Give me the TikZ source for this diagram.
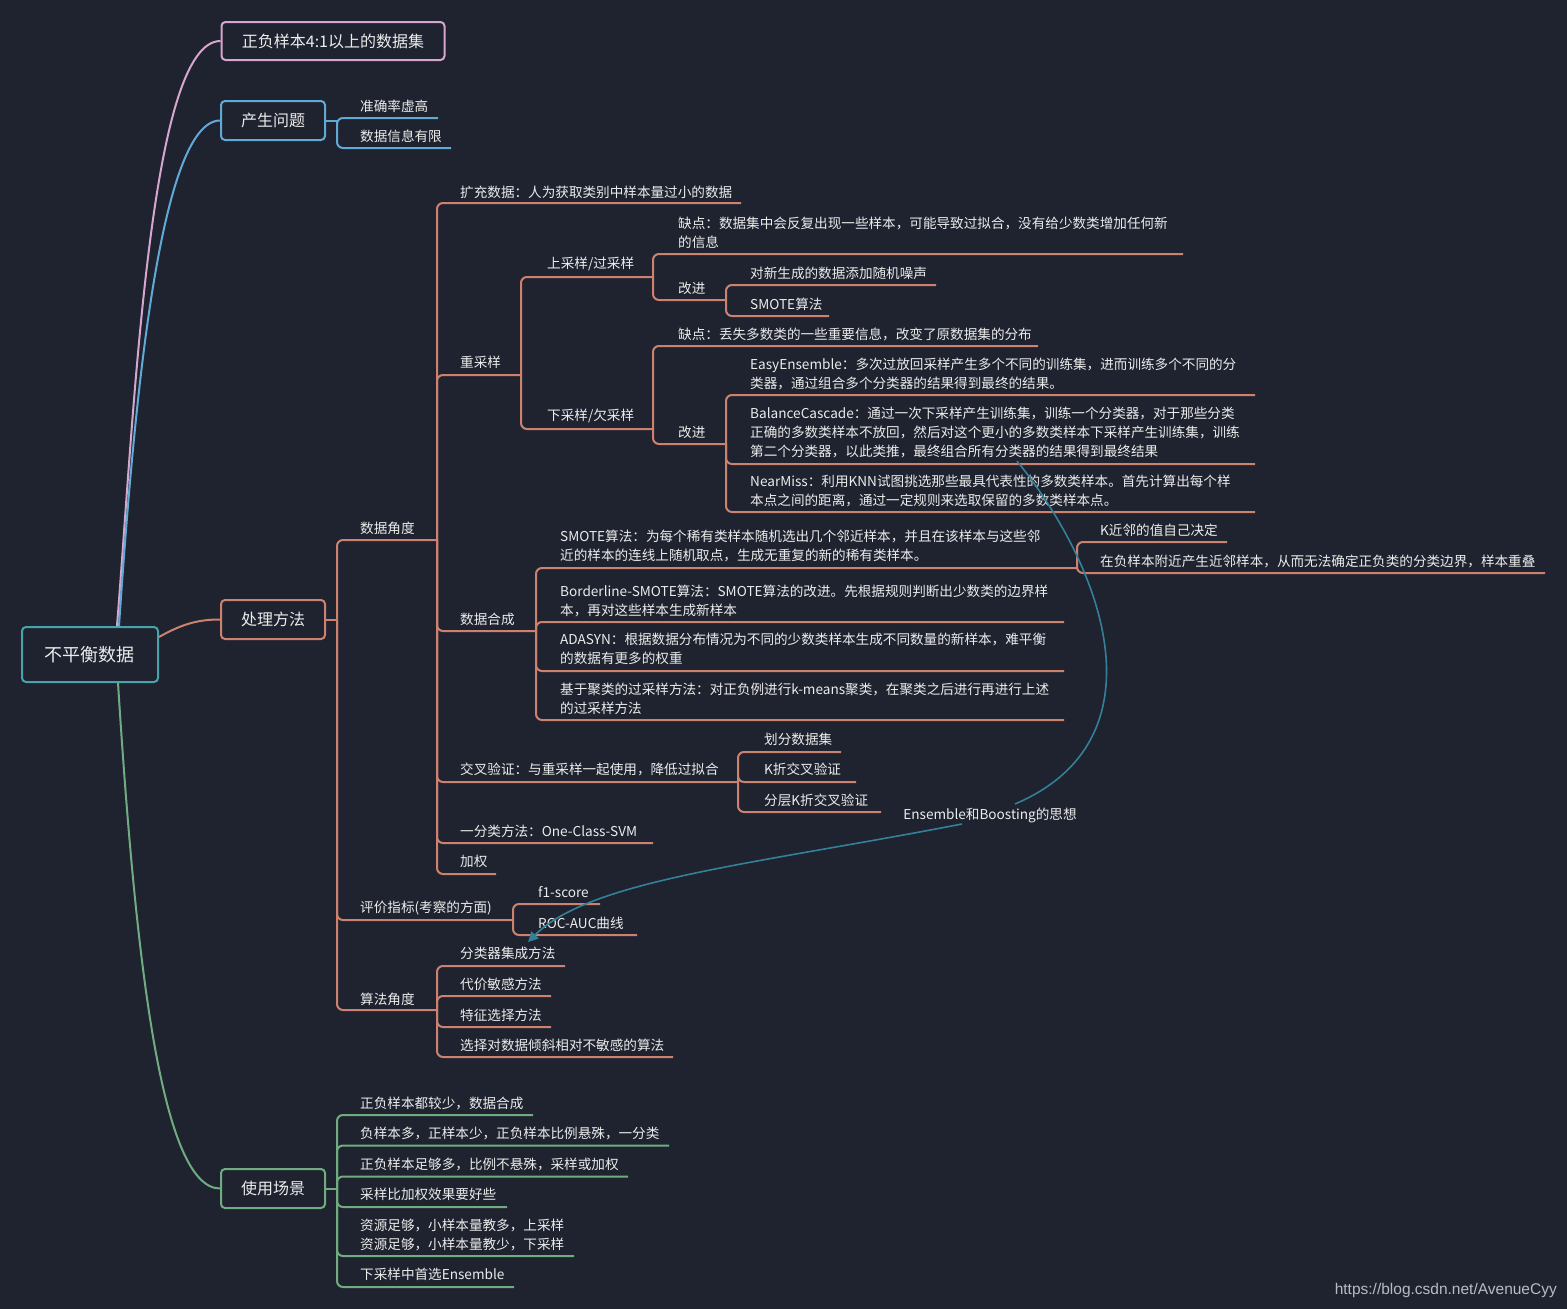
\documentclass[tikz,border=0pt]{standalone}
\usepackage{fontspec}
\setmainfont{Noto Sans CJK SC}
\newfontfamily\wmfont{Liberation Sans}
\usetikzlibrary{arrows.meta}
\definecolor{bg}{RGB}{30,35,47}
\definecolor{txt}{RGB}{236,236,236}
\definecolor{cP}{RGB}{214,166,206}
\definecolor{cB}{RGB}{98,170,214}
\definecolor{cS}{RGB}{205,130,112}
\definecolor{cG}{RGB}{112,172,128}
\definecolor{cT}{RGB}{72,164,170}
\definecolor{cR}{RGB}{52,128,152}
\definecolor{wmc}{RGB}{185,187,192}
\tikzset{
  lf/.style={anchor=west, inner sep=0pt, text=txt, font=\fontsize{13.6}{19}\selectfont, align=left},
  topbox/.style={draw, line width=2pt, rounded corners=4pt, fill=bg, text=txt, inner sep=0pt, font=\fontsize{16}{19}\selectfont, minimum height=39pt},
  br/.style={line width=2pt, rounded corners=6pt},
  sal/.style={br, draw=cS},
  blu/.style={br, draw=cB},
  grn/.style={br, draw=cG},
  rel/.style={line width=1.6pt, draw=cR},
}
\newcommand\leafat[6]{\node[lf] (#1) at (#2,#3) {#6}; \coordinate (#1-e) at (#5,#4);}
\begin{document}
\begin{tikzpicture}[x=1pt,y=-1pt]
\fill[bg] (0,0) rectangle (1567,1309);
\useasboundingbox (0,0) rectangle (1567,1309);

% root and top-level boxes
\node[topbox, draw=cT, minimum width=136pt, minimum height=55pt, font=\fontsize{18}{20}\selectfont] (rt) at (90,654.5) {不平衡数据};
\node[topbox, draw=cP, minimum width=223pt, minimum height=38pt] (b1) at (333,41) {正负样本4:1以上的数据集};
\node[topbox, draw=cB, minimum width=104pt] (b2) at (273,120.5) {产生问题};
\node[topbox, draw=cS, minimum width=104pt] (b3) at (273,619.5) {处理方法};
\node[topbox, draw=cG, minimum width=104pt] (b4) at (273,1188.5) {使用场景};
\coordinate (b2-s) at (337,120.5);
\coordinate (b3-s) at (337,619.5);
\coordinate (b4-s) at (337,1188.5);

% 产生问题
\leafat{q1}{360}{106}{118}{438}{准确率虚高}
\leafat{q2}{360}{136}{148}{451}{数据信息有限}

% 处理方法
\leafat{d1}{360}{528}{540}{437}{数据角度}
\leafat{d2}{360}{908}{920}{513}{评价指标(考察的方面)}
\leafat{d3}{360}{999}{1010}{437}{算法角度}

\leafat{e1}{460}{192}{203}{741}{扩充数据：人为获取类别中样本量过小的数据}
\leafat{e2}{460}{362}{375}{521}{重采样}
\leafat{e3}{460}{619}{631}{536}{数据合成}
\leafat{e4}{460}{769}{782}{738}{交叉验证：与重采样一起使用，降低过拟合}
\leafat{e5}{460}{831}{843}{653}{一分类方法：One-Class-SVM}
\leafat{e6}{460}{861}{874}{496}{加权}

\leafat{r1}{547}{264}{277}{653}{上采样/过采样}
\leafat{r2}{547}{416}{429}{653}{下采样/欠采样}

\leafat{u1}{678}{233}{254}{1183}{缺点：数据集中会反复出现一些样本，可能导致过拟合，没有给少数类增加任何新\\的信息}
\leafat{u2}{678}{288}{300}{726}{改进}
\leafat{u3}{750}{273}{285}{936}{对新生成的数据添加随机噪声}
\leafat{u4}{750}{304}{316}{829}{SMOTE算法}

\leafat{v1}{678}{334}{346}{1038}{缺点：丢失多数类的一些重要信息，改变了原数据集的分布}
\leafat{v2}{678}{432}{444}{726}{改进}
\leafat{v3}{750}{373.5}{395}{1255}{EasyEnsemble：多次过放回采样产生多个不同的训练集，进而训练多个不同的分\\类器，通过组合多个分类器的结果得到最终的结果。}
\leafat{v4}{750}{432}{464}{1255}{BalanceCascade：通过一次下采样产生训练集，训练一个分类器，对于那些分类\\正确的多数类样本不放回，然后对这个更小的多数类样本下采样产生训练集，训练\\第二个分类器，以此类推，最终组合所有分类器的结果得到最终结果}
\leafat{v5}{750}{490.5}{512}{1255}{NearMiss：利用KNN试图挑选那些最具代表性的多数类样本。首先计算出每个样\\本点之间的距离，通过一定规则来选取保留的多数类样本点。}

\leafat{s1}{560}{545.5}{568}{1077}{SMOTE算法：为每个稀有类样本随机选出几个邻近样本，并且在该样本与这些邻\\近的样本的连线上随机取点，生成无重复的新的稀有类样本。}
\leafat{s2}{560}{601}{622}{1064}{Borderline-SMOTE算法：SMOTE算法的改进。先根据规则判断出少数类的边界样\\本，再对这些样本生成新样本}
\leafat{s3}{560}{649}{671}{1064}{ADASYN：根据数据分布情况为不同的少数类样本生成不同数量的新样本，难平衡\\的数据有更多的权重}
\leafat{s4}{560}{699}{720}{1064}{基于聚类的过采样方法：对正负例进行k-means聚类，在聚类之后进行再进行上述\\的过采样方法}
\leafat{k1}{1100}{530}{542}{1227}{K近邻的值自己决定}
\leafat{k2}{1100}{561}{573}{1545}{在负样本附近产生近邻样本，从而无法确定正负类的分类边界，样本重叠}

\leafat{x1}{764}{739}{752}{841}{划分数据集}
\leafat{x2}{764}{769}{782}{856}{K折交叉验证}
\leafat{x3}{764}{800}{812}{881}{分层K折交叉验证}

\leafat{f1}{538}{892}{904}{600}{f1-score}
\leafat{f2}{538}{923}{935}{637}{ROC-AUC曲线}

\leafat{a1}{460}{953}{966}{565}{分类器集成方法}
\leafat{a2}{460}{984}{996}{551}{代价敏感方法}
\leafat{a3}{460}{1015}{1027}{551}{特征选择方法}
\leafat{a4}{460}{1045}{1057}{673}{选择对数据倾斜相对不敏感的算法}

% 使用场景
\leafat{g1}{360}{1103}{1115}{533}{正负样本都较少，数据合成}
\leafat{g2}{360}{1133}{1145.5}{669}{负样本多，正样本少，正负样本比例悬殊，一分类}
\leafat{g3}{360}{1164}{1176.5}{628}{正负样本足够多，比例不悬殊，采样或加权}
\leafat{g4}{360}{1194}{1207}{507}{采样比加权效果要好些}
\leafat{g5}{360}{1234.5}{1256}{574}{资源足够，小样本量教多，上采样\\资源足够，小样本量教少，下采样}
\leafat{g6}{360}{1274}{1287}{514}{下采样中首选Ensemble}

% relation label
\node[lf, anchor=center] (lbl) at (990,815) {Ensemble和Boosting的思想};
\coordinate (rA) at (1017,461);
\coordinate (rB) at (1015,804);
\coordinate (rC) at (962,824);
\coordinate (rD) at (528,942);

% watermark
\node[anchor=east, inner sep=0pt, text=wmc, font=\wmfont\fontsize{15.5}{18}\selectfont] (wm) at (1557,1290) {https://blog.csdn.net/AvenueCyy};

% root connectors
\draw[line width=2pt, cP] ([xshift=27pt]rt.north) .. controls (135,400) and (150,41) .. (b1.west);
\draw[line width=2pt, cB] ([xshift=29pt]rt.north) .. controls (133,420) and (158,121) .. (b2.west);
\draw[line width=2pt, cS] ([yshift=17.5pt]rt.east) .. controls (182,624) and (198,619.5) .. (b3.west);
\draw[line width=2pt, cG] ([xshift=28pt]rt.south) .. controls (135,950) and (160,1188.5) .. (b4.west);

% 产生问题
\draw[line width=2pt, cB] (b2.east) -- (b2-s);
\foreach \c in {q1,q2} \draw[blu] (b2-s) |- (\c-e);

% 处理方法
\draw[line width=2pt, cS] (b3.east) -- (b3-s);
\foreach \c in {d1,d2,d3} \draw[sal] (b3-s) |- (\c-e);
\foreach \c in {e1,e2,e3,e4,e5,e6} \draw[sal] (d1-e) |- (\c-e);
\foreach \c in {r1,r2} \draw[sal] (e2-e) |- (\c-e);
\foreach \c in {u1,u2} \draw[sal] (r1-e) |- (\c-e);
\foreach \c in {u3,u4} \draw[sal] (u2-e) |- (\c-e);
\foreach \c in {v1,v2} \draw[sal] (r2-e) |- (\c-e);
\foreach \c in {v3,v4,v5} \draw[sal] (v2-e) |- (\c-e);
\foreach \c in {s1,s2,s3,s4} \draw[sal] (e3-e) |- (\c-e);
\foreach \c in {k1,k2} \draw[sal] (s1-e) |- (\c-e);
\foreach \c in {x1,x2,x3} \draw[sal] (e4-e) |- (\c-e);
\foreach \c in {f1,f2} \draw[sal] (d2-e) |- (\c-e);
\foreach \c in {a1,a2,a3,a4} \draw[sal] (d3-e) |- (\c-e);

% 使用场景
\draw[line width=2pt, cG] (b4.east) -- (b4-s);
\foreach \c in {g1,g2,g3,g4,g5,g6} \draw[grn] (b4-s) |- (\c-e);

% relation curve
\draw[rel] (rA) .. controls (1105,570) and (1165,740) .. (rB);
\draw[rel, -{Triangle[length=10pt,width=10pt]}] (rC) .. controls (750,865) and (590,880) .. (rD);
\end{tikzpicture}
\end{document}
